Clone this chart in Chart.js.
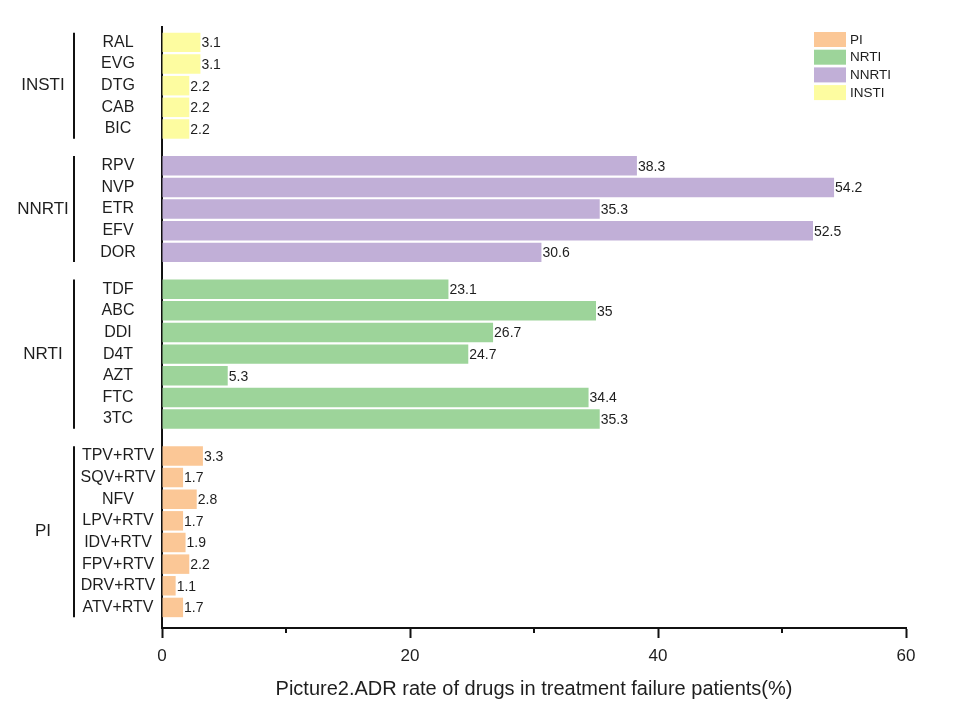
<!DOCTYPE html>
<html lang="en">
<head>
    <meta charset="UTF-8">
    <title>ADR rate of drugs in treatment failure patients</title>
    <!-- Chart.js -->
    <script src="https://cdn.jsdelivr.net/npm/chart.js"></script>
    <style>
        body { margin: 0; background: #ffffff; }
        #wrap { width: 960px; height: 720px; }
    </style>
</head>
<body>
    <div id="wrap"><canvas id="adrChart" width="960" height="720"></canvas></div>

    <script>
        // --- DATA (groups listed top to bottom as in the figure) ---
        const groupNames = ['INSTI', 'NNRTI', 'NRTI', 'PI'];

        const instiDrugs = ['RAL', 'EVG', 'DTG', 'CAB', 'BIC'];
        const instiRates = [3.1, 3.1, 2.2, 2.2, 2.2];

        const nnrtiDrugs = ['RPV', 'NVP', 'ETR', 'EFV', 'DOR'];
        const nnrtiRates = [38.3, 54.2, 35.3, 52.5, 30.6];

        const nrtiDrugs = ['TDF', 'ABC', 'DDI', 'D4T', 'AZT', 'FTC', '3TC'];
        const nrtiRates = [23.1, 35, 26.7, 24.7, 5.3, 34.4, 35.3];

        const piDrugs = ['TPV+RTV', 'SQV+RTV', 'NFV', 'LPV+RTV', 'IDV+RTV', 'FPV+RTV', 'DRV+RTV', 'ATV+RTV'];
        const piRates = [3.3, 1.7, 2.8, 1.7, 1.9, 2.2, 1.1, 1.7];

        const legendOrder = ['PI', 'NRTI', 'NNRTI', 'INSTI'];
        const xTicks = [0, 20, 40, 60];
        const xMinorTicks = [10, 30, 50];
        const xTitle = 'Picture2.ADR rate of drugs in treatment failure patients(%)';

        // --- STYLE ---
        const groupColors = {
            PI: '#FBC796',
            NRTI: '#9DD49A',
            NNRTI: '#C1AFD7',
            INSTI: '#FDFCA0'
        };
        const FONT = "'Liberation Sans', Arial, sans-serif";
        const INK = '#1e1e1e';
        const AXIS = '#111111';
        const GROUP_GAP = 0.7;    // extra space between groups, in rows
        const Y_MIN = -0.71;      // room above the first row
        const Y_MAX = 27.05;      // room below the last row

        // --- build rows on a numeric y scale (row index + group gaps) ---
        const groupData = {
            INSTI: { drugs: instiDrugs, rates: instiRates },
            NNRTI: { drugs: nnrtiDrugs, rates: nnrtiRates },
            NRTI: { drugs: nrtiDrugs, rates: nrtiRates },
            PI: { drugs: piDrugs, rates: piRates }
        };

        const rows = [];
        const groupSpans = [];
        let rowIndex = 0;
        groupNames.forEach((g, gi) => {
            const first = rowIndex + gi * GROUP_GAP;
            groupData[g].drugs.forEach((drug, i) => {
                rows.push({ group: g, drug: drug, rate: groupData[g].rates[i], pos: rowIndex + gi * GROUP_GAP });
                rowIndex++;
            });
            const last = rowIndex - 1 + gi * GROUP_GAP;
            groupSpans.push({ name: g, first: first, last: last });
        });

        const datasets = legendOrder.map(g => ({
            label: g,
            data: rows.filter(r => r.group === g).map(r => ({ x: r.rate, y: r.pos })),
            backgroundColor: groupColors[g],
            borderWidth: 0,
            grouped: false,
            categoryPercentage: 1.0,
            barPercentage: 0.9
        }));

        // --- labels, brackets, minor ticks and legend ---
        const annotatePlugin = {
            id: 'annotate',
            afterDraw(chart) {
                const ctx = chart.ctx;
                const xs = chart.scales.x;
                const ys = chart.scales.y;
                ctx.save();

                // value labels at bar ends
                ctx.fillStyle = INK;
                ctx.font = `14px ${FONT}`;
                ctx.textAlign = 'left';
                ctx.textBaseline = 'middle';
                chart.data.datasets.forEach((ds, di) => {
                    chart.getDatasetMeta(di).data.forEach((bar, i) => {
                        ctx.fillText(String(ds.data[i].x), bar.x + 1, bar.y + 1);
                    });
                });

                // drug names
                ctx.font = `16px ${FONT}`;
                ctx.textAlign = 'center';
                rows.forEach(r => {
                    ctx.fillText(r.drug, 118, ys.getPixelForValue(r.pos));
                });

                // group names and brackets
                ctx.strokeStyle = AXIS;
                ctx.lineWidth = 2;
                ctx.font = `17px ${FONT}`;
                groupSpans.forEach(s => {
                    const top = ys.getPixelForValue(s.first - 0.45);
                    const bottom = ys.getPixelForValue(s.last + 0.45);
                    ctx.beginPath();
                    ctx.moveTo(74, top);
                    ctx.lineTo(74, bottom);
                    ctx.stroke();
                    ctx.fillText(s.name, 43, (top + bottom) / 2);
                });

                // minor ticks on the x axis
                xMinorTicks.forEach(v => {
                    const px = xs.getPixelForValue(v);
                    ctx.beginPath();
                    ctx.moveTo(px, chart.chartArea.bottom);
                    ctx.lineTo(px, chart.chartArea.bottom + 5);
                    ctx.stroke();
                });

                // legend
                ctx.font = `13.5px ${FONT}`;
                ctx.textAlign = 'left';
                chart.data.datasets.forEach((ds, i) => {
                    const top = 32 + i * 17.7;
                    ctx.fillStyle = ds.backgroundColor;
                    ctx.fillRect(814, top, 32, 15);
                    ctx.fillStyle = INK;
                    ctx.fillText(ds.label, 850, top + 8);
                });

                ctx.restore();
            }
        };

        new Chart(document.getElementById('adrChart'), {
            type: 'bar',
            data: { datasets: datasets },
            options: {
                indexAxis: 'y',
                responsive: false,
                animation: false,
                layout: { padding: { left: 0, right: 54, top: 27, bottom: 0 } },
                plugins: {
                    legend: { display: false },
                    tooltip: { enabled: false }
                },
                scales: {
                    x: {
                        type: 'linear',
                        min: 0,
                        max: 60,
                        afterBuildTicks: s => { s.ticks = xTicks.map(v => ({ value: v })); },
                        afterFit: s => { s.height = 92; },
                        ticks: { color: INK, font: { family: FONT, size: 17 }, padding: 8 },
                        grid: {
                            drawOnChartArea: false,
                            drawTicks: true,
                            tickLength: 10,
                            tickWidth: 2,
                            tickColor: AXIS
                        },
                        border: { display: true, color: AXIS, width: 2 },
                        title: {
                            display: true,
                            text: xTitle,
                            color: INK,
                            font: { family: FONT, size: 20 },
                            padding: { top: 0, bottom: 19 }
                        }
                    },
                    y: {
                        type: 'linear',
                        reverse: true,
                        offset: false,
                        bounds: 'data',
                        min: Y_MIN,
                        max: Y_MAX,
                        afterDataLimits: s => { s.min = Y_MIN; s.max = Y_MAX; },
                        afterBuildTicks: s => { s.ticks = rows.map(r => ({ value: r.pos })); },
                        afterFit: s => { s.width = 162; },
                        ticks: { display: false },
                        grid: { display: false, drawTicks: false, offset: false },
                        border: { display: true, color: AXIS, width: 2 }
                    }
                }
            },
            plugins: [annotatePlugin]
        });
    </script>
</body>
</html>
